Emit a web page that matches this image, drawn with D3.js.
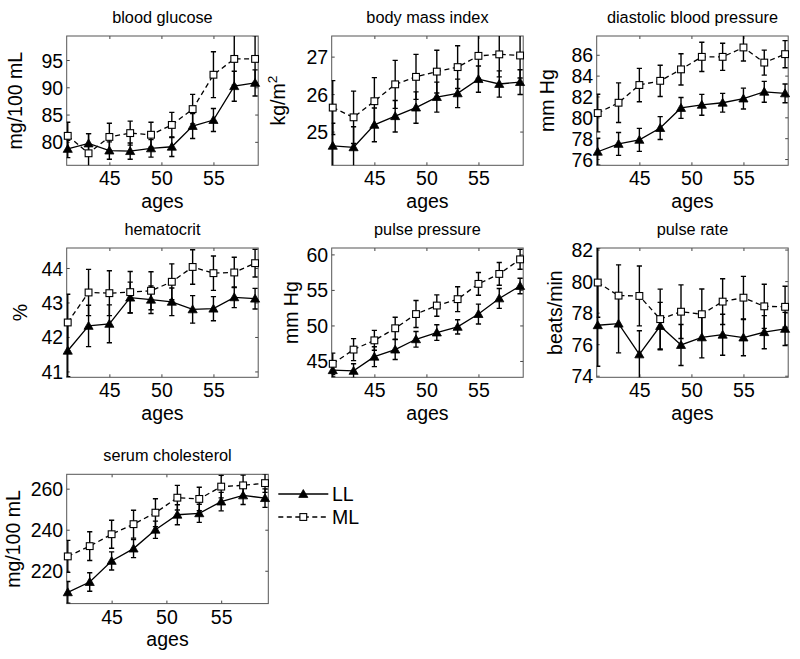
<!DOCTYPE html>
<html><head><meta charset="utf-8">
<script src="https://cdn.jsdelivr.net/npm/d3@7"></script>
<style>body{margin:0;background:#fff}svg{display:block}text{font-family:"Liberation Sans",Arial,sans-serif;fill:#000}</style>
</head><body><div id="chart"></div>
<script>
const ages = [41,43,45,47,49,51,53,55,57,59];
const xTicks = [45,50,55];
const seriesNames = ["LL","ML"];

const titles = ["blood glucose","body mass index","diastolic blood pressure","hematocrit","pulse pressure","pulse rate","serum cholesterol"];
const yLabels = ["mg/100 mL","kg/m2","mm Hg","%","mm Hg","beats/min","mg/100 mL"];
const yTickSets = [[80,85,90,95],[25,26,27],[76,78,80,82,84,86],[41,42,43,44],[45,50,55,60],[74,76,78,80,82],[220,240,260]];
const yDomains = [[75.7,99.4],[24.1,27.55],[75.4,87.8],[40.83,44.58],[42.7,60.9],[73.9,82.1],[204,267]];

const llGlucose = [78.7,79.7,78.4,78.3,78.8,79.1,82.9,84.0,90.2,90.8];
const llGlucoseErr = [1.6,1.8,1.6,1.5,1.6,1.8,2.3,2.1,2.75,2.4];
const mlGlucose = [81.1,77.9,80.9,81.6,81.3,83.1,86.0,92.3,95.2,95.2];
const mlGlucoseErr = [2.5,3.6,2.5,2.2,2.3,2.3,2.7,4.2,4.8,4.3];

const llBmi = [24.62,24.58,25.18,25.41,25.64,25.92,26.02,26.4,26.27,26.32];
const llBmiErr = [0.6,0.55,0.45,0.42,0.42,0.4,0.38,0.35,0.35,0.33];
const mlBmi = [25.64,25.38,25.81,26.26,26.46,26.6,26.72,27.02,27.06,27.03];
const mlBmiErr = [0.72,0.7,0.63,0.64,0.6,0.57,0.57,0.6,0.6,0.6];

const llDbp = [76.7,77.45,77.84,78.97,80.9,81.2,81.4,81.8,82.45,82.3];
const llDbpErr = [1.3,1.1,1.1,1.1,1.0,1.0,0.9,1.0,1.0,0.9];
const mlDbp = [80.41,81.4,83.1,83.5,84.6,85.8,85.8,86.7,85.25,86.06];
const mlDbpErr = [1.8,1.9,1.6,1.5,1.5,1.4,1.3,1.3,1.2,1.3];

const llHct = [41.6,42.32,42.38,43.14,43.08,43.02,42.8,42.82,43.15,43.11];
const llHctErr = [0.75,0.6,0.55,0.45,0.4,0.4,0.4,0.35,0.3,0.3];
const mlHct = [42.42,43.29,43.27,43.3,43.34,43.6,44.03,43.85,43.87,44.14];
const mlHctErr = [0.82,0.67,0.65,0.6,0.55,0.52,0.5,0.5,0.44,0.4];

const llPp = [43.7,43.6,45.6,46.6,48.05,49.0,49.8,51.6,53.8,55.55];
const llPpErr = [0.95,1.0,1.4,1.4,1.1,1.1,1.0,1.4,1.4,1.1];
const mlPp = [44.6,46.6,47.9,49.6,51.6,52.8,53.7,55.85,57.25,59.3];
const mlPpErr = [1.5,1.55,1.4,1.55,1.9,1.5,1.75,1.6,1.6,1.4];

const llPr = [77.2,77.3,75.35,77.15,75.95,76.43,76.6,76.42,76.76,76.97];
const llPrErr = [2.6,1.85,1.5,1.5,1.3,1.3,1.3,1.15,1.05,1.05];
const mlPr = [79.91,79.08,79.06,77.59,78.06,77.9,78.7,78.95,78.4,78.37];
const mlPrErr = [2.2,1.95,1.9,1.9,1.7,1.6,1.45,1.35,1.4,1.3];

const llChol = [209.5,214.5,224.8,230.8,240,247.3,248,253.7,256.7,255.4];
const llCholErr = [5.3,4.5,4.4,4.4,4.2,4.9,4.4,4.5,4.4,4.5];
const mlChol = [227,232,237.8,242.7,248.3,255.6,255,261,261.6,262.7];
const mlCholErr = [7.8,7,6.8,6.8,6.8,6,5.7,5.5,5,4.5];

const llSets = [llGlucose,llBmi,llDbp,llHct,llPp,llPr,llChol];
const llErrSets = [llGlucoseErr,llBmiErr,llDbpErr,llHctErr,llPpErr,llPrErr,llCholErr];
const mlSets = [mlGlucose,mlBmi,mlDbp,mlHct,mlPp,mlPr,mlChol];
const mlErrSets = [mlGlucoseErr,mlBmiErr,mlDbpErr,mlHctErr,mlPpErr,mlPrErr,mlCholErr];

// layout
const W = 800, H = 659;
const colX = [66.7, 331.7, 596.7];
const rowY = [36, 248, 474.3];
const boxW = 191.5, boxH = 129.3, boxW7 = 201.6;
const yLabelOff = [-51.7,-53.4,-50,-46.7,-41,-41.7,-53.7];
const xDomain = [40.9, 59.3];
const tickFont = 19.5, labelFont = 19.5, titleFont = 16.3;

const svg = d3.select("#chart").append("svg").attr("width",W).attr("height",H);

titles.forEach((title,i)=>{
  const col = i%3, row = Math.floor(i/3);
  const x0 = colX[col], y0 = rowY[row];
  const w = i===6 ? boxW7 : boxW, h = boxH;
  const x = d3.scaleLinear().domain(xDomain).range([0,w]);
  const y = d3.scaleLinear().domain(yDomains[i]).range([h,0]);
  const g = svg.append("g").attr("transform",`translate(${x0},${y0})`);
  const cid = "clip"+i;
  g.append("clipPath").attr("id",cid).append("rect").attr("width",w).attr("height",h);

  // axes with inward ticks
  const tl = 3;
  const ax = g.append("g").attr("transform",`translate(0,${h})`)
    .call(d3.axisBottom(x).tickValues(xTicks).tickSize(-tl).tickPadding(5).tickFormat(d3.format("d")));
  ax.selectAll("text").attr("font-size",tickFont).attr("dy",null).attr("y",20);
  g.append("g").call(d3.axisTop(x).tickValues(xTicks).tickSize(-tl).tickFormat(""));
  const ay = g.append("g").call(d3.axisLeft(y).tickValues(yTickSets[i]).tickSize(-tl).tickPadding(4).tickFormat(d3.format("d")));
  ay.selectAll("text").attr("font-size",tickFont).attr("x",-3.5).attr("dy","0.36em");
  g.append("g").attr("transform",`translate(${w},0)`).call(d3.axisRight(y).tickValues(yTickSets[i]).tickSize(-tl).tickFormat(""));
  g.selectAll(".domain").remove();
  g.selectAll(".tick line").attr("stroke","#444").attr("stroke-width",1);
  g.append("rect").attr("width",w).attr("height",h).attr("fill","none").attr("stroke","#555").attr("stroke-width",1);

  // title / labels
  g.append("text").attr("x",w/2).attr("y",-13.5).attr("text-anchor","middle").attr("font-size",titleFont).text(title);
  g.append("text").attr("x",w/2).attr("y",h+42.3).attr("text-anchor","middle").attr("font-size",labelFont).text("ages");
  const yl = g.append("text").attr("transform",`translate(${yLabelOff[i]},${h/2}) rotate(-90)`)
    .attr("text-anchor","middle").attr("dominant-baseline","central").attr("font-size",labelFont);
  if (yLabels[i]==="kg/m2") {
    yl.append("tspan").text("kg/m");
    yl.append("tspan").attr("dy","-0.45em").attr("font-size",labelFont*0.7).text("2");
  } else yl.text(yLabels[i]);

  const plot = g.append("g");
  const drawSeries = (vals, errs, type) => {
    const pts = ages.map((a,k)=>({a, v:vals[k], e:errs[k]}));
    const clipped = plot.append("g").attr("clip-path",`url(#${cid})`);
    // error bars
    const eb = clipped.append("g").attr("stroke","#000").attr("stroke-width",1.4).attr("fill","none");
    pts.forEach(p=>{
      const px = x(p.a), t = y(p.v+p.e), b = y(p.v-p.e);
      eb.append("line").attr("x1",px).attr("x2",px).attr("y1",t).attr("y2",b);
      eb.append("line").attr("x1",px-2.6).attr("x2",px+2.6).attr("y1",t).attr("y2",t);
      eb.append("line").attr("x1",px-2.6).attr("x2",px+2.6).attr("y1",b).attr("y2",b);
    });
    clipped.append("path").datum(pts)
      .attr("d",d3.line().x(p=>x(p.a)).y(p=>y(p.v)))
      .attr("fill","none").attr("stroke","#000").attr("stroke-width",1.3)
      .attr("stroke-dasharray", type==="ML" ? "5,3.5" : null);
    if (type==="LL") {
      plot.selectAll(null).data(pts).enter().append("path")
        .attr("d",d3.symbol().type(d3.symbolTriangle).size(36))
        .attr("transform",p=>`translate(${x(p.a)},${y(p.v)+0.8})`).attr("fill","#000").attr("stroke","#000").attr("stroke-width",0.8);
    } else {
      plot.selectAll(null).data(pts).enter().append("rect")
        .attr("x",p=>x(p.a)-3.4).attr("y",p=>y(p.v)-3.4).attr("width",6.8).attr("height",6.8)
        .attr("fill","#fff").attr("stroke","#000").attr("stroke-width",1.1);
    }
  };
  drawSeries(llSets[i], llErrSets[i], "LL");
  drawSeries(mlSets[i], mlErrSets[i], "ML");
});

// legend
const leg = svg.append("g");
const legY = [494, 517];
seriesNames.forEach((name,k)=>{
  const ly = legY[k];
  leg.append("line").attr("x1",278.3).attr("x2",328.3).attr("y1",ly).attr("y2",ly)
    .attr("stroke","#000").attr("stroke-width",1.3).attr("stroke-dasharray",name==="ML"?"5,3.5":null);
  if (name==="LL") leg.append("path").attr("d",d3.symbol().type(d3.symbolTriangle).size(36)).attr("transform",`translate(303.3,${ly+0.8})`).attr("fill","#000").attr("stroke","#000").attr("stroke-width",0.8);
  else leg.append("rect").attr("x",303.3-3.4).attr("y",ly-3.4).attr("width",6.8).attr("height",6.8).attr("fill","#fff").attr("stroke","#000").attr("stroke-width",1.1);
  leg.append("text").attr("x",332).attr("y",ly).attr("dy","0.36em").attr("font-size",labelFont).text(name);
});
</script></body></html>
